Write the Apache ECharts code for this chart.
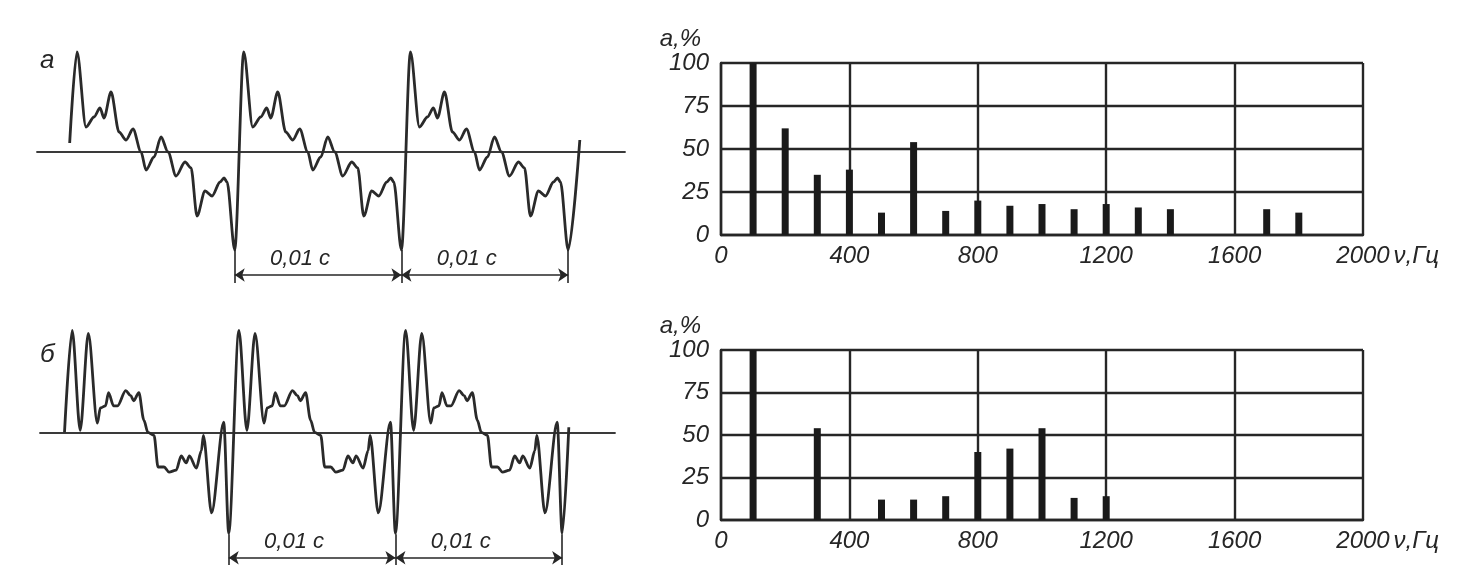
<!DOCTYPE html>
<html>
<head>
<meta charset="utf-8">
<script src="https://cdn.jsdelivr.net/npm/echarts@6/dist/echarts.min.js"></script>
<style>
  html, body { margin: 0; background: #fff; }
  #chart { width: 1466px; height: 574px; }
</style>
</head>
<body>
<div id="chart"></div>
<script>
// осциллограмма а: один период, t в мс от минимума, значение в долях амплитуды
const waveAPeriod = [
  [0.54, 1.0], [1.08, 0.25], [1.56, 0.35], [1.92, 0.44], [2.16, 0.34], [2.58, 0.6],
  [3.06, 0.2], [3.48, 0.12], [3.9, 0.23], [4.38, 0.0], [4.68, -0.18], [5.16, -0.05],
  [5.58, 0.15], [6.0, 0.0], [6.48, -0.24], [7.02, -0.1], [7.38, -0.16], [7.74, -0.64],
  [8.22, -0.39], [8.64, -0.44], [9.12, -0.3], [9.36, -0.26], [9.54, -0.3], [10.0, -0.98]
];
const waveAStart = [0.1, 0.09];
const waveAEnd = [30.7, 0.12];

// осциллограмма б
const waveBPeriod = [
  [0.61, 1.0], [1.09, 0.02], [1.58, 0.97], [2.12, 0.09], [2.3, 0.24], [2.61, 0.26],
  [2.79, 0.39], [3.09, 0.26], [3.33, 0.26], [3.82, 0.41], [4.12, 0.36], [4.3, 0.31],
  [4.61, 0.39], [4.91, 0.12], [5.15, 0.0], [5.52, -0.03], [5.76, -0.34], [6.12, -0.34],
  [6.42, -0.39], [6.85, -0.37], [7.15, -0.23], [7.45, -0.3], [7.64, -0.23], [8.06, -0.35],
  [8.36, -0.18], [8.48, -0.03], [8.97, -0.79], [9.7, 0.1], [10.0, -0.99]
];
const waveBStart = [0.15, 0.0];
const waveBEnd = [30.4, 0.05];

const periodMs = 10;
const periodMarks = [10, 20, 30];
const periodLabel = '0,01 с';

// спектры: частота, Гц и амплитуда, %
const spectrumAFreq = [100, 200, 300, 400, 500, 600, 700, 800, 900, 1000, 1100, 1200, 1300, 1400, 1700, 1800];
const spectrumAValue = [100, 62, 35, 38, 13, 54, 14, 20, 17, 18, 15, 18, 16, 15, 15, 13];
const spectrumBFreq = [100, 300, 500, 600, 700, 800, 900, 1000, 1100, 1200];
const spectrumBValue = [100, 54, 12, 12, 14, 40, 42, 54, 13, 14];

const ink = '#262626';
const font = 'Liberation Sans';

function buildWave(start, period, end) {
  const pts = [start];
  for (let p = 0; p < 3; p++) {
    period.forEach(([t, v]) => pts.push([t + p * periodMs, v]));
  }
  pts.push(end);
  return pts;
}

function dimLines(yTop, yBottom, yArrow) {
  const data = periodMarks.map(t => [
    { coord: [t, yTop], symbol: 'none', name: '' },
    { coord: [t, yBottom], symbol: 'none', name: '' }
  ]);
  for (let i = 0; i < periodMarks.length - 1; i++) {
    data.push([
      { coord: [periodMarks[i], yArrow], symbol: 'arrow', name: periodLabel },
      { coord: [periodMarks[i + 1], yArrow], symbol: 'arrow', name: periodLabel }
    ]);
  }
  return {
    silent: true,
    symbolSize: 10,
    lineStyle: { color: ink, width: 1.6, type: 'solid' },
    label: {
      show: true,
      position: 'middle',
      formatter: p => p.name || '',
      color: ink,
      fontFamily: font,
      fontStyle: 'italic',
      fontSize: 22,
      padding: [0, 36, 0, 0]
    },
    data
  };
}

function waveSeries(idx, data, yTop, yBottom, yArrow) {
  return {
    type: 'line',
    xAxisIndex: idx,
    yAxisIndex: idx,
    data,
    showSymbol: false,
    smooth: 0.3,
    smoothMonotone: 'x',
    lineStyle: { color: '#2a2a2a', width: 2.8 },
    markLine: dimLines(yTop, yBottom, yArrow)
  };
}

function spectrumSeries(idx, freq, value) {
  return {
    type: 'bar',
    xAxisIndex: idx,
    yAxisIndex: idx,
    barWidth: 7,
    itemStyle: { color: '#1a1a1a' },
    data: freq.map((f, i) => [f, value[i]])
  };
}

const waveX = (min, max) => ({
  type: 'value',
  min,
  max,
  axisLine: { onZero: true, lineStyle: { color: '#3a3a3a', width: 1.8 } },
  axisTick: { show: false },
  axisLabel: { show: false },
  splitLine: { show: false }
});
const waveY = (min, max) => ({
  type: 'value',
  min,
  max,
  axisLine: { show: false },
  axisTick: { show: false },
  axisLabel: { show: false },
  splitLine: { show: false }
});

const labelStyle = { color: ink, fontFamily: font, fontStyle: 'italic', fontSize: 24 };
const gridLine = { lineStyle: { color: ink, width: 2.4 } };

const freqAxis = {
  type: 'value',
  min: 0,
  max: 2000,
  interval: 400,
  name: 'ν,Гц',
  nameLocation: 'end',
  nameGap: 30,
  nameTextStyle: { ...labelStyle, verticalAlign: 'top', padding: [9, 0, 0, 0] },
  axisLine: gridLine,
  axisTick: { show: false },
  axisLabel: { ...labelStyle, margin: 9, formatter: v => String(v) },
  splitLine: { show: true, ...gridLine }
};
const ampAxis = {
  type: 'value',
  min: 0,
  max: 100,
  interval: 25,
  name: 'а,%',
  nameLocation: 'end',
  nameGap: 12,
  nameTextStyle: { ...labelStyle, align: 'right', padding: [0, 20, 0, 0] },
  axisLine: gridLine,
  axisTick: { show: false },
  axisLabel: { ...labelStyle, margin: 12 },
  splitLine: { show: true, ...gridLine }
};

const option = {
  animation: false,
  backgroundColor: '#fff',
  title: [
    { text: 'а', left: 40, top: 48, padding: 0, textStyle: { ...labelStyle, fontSize: 26, fontWeight: 'normal' } },
    { text: 'б', left: 40, top: 342, padding: 0, textStyle: { ...labelStyle, fontSize: 26, fontWeight: 'normal' } }
  ],
  grid: [
    { left: 37, top: 32, width: 588, height: 260 },
    { left: 40, top: 310, width: 575, height: 260 },
    { left: 721, top: 63, width: 642, height: 172 },
    { left: 721, top: 350, width: 642, height: 170 }
  ],
  xAxis: [
    { ...waveX(-1.86, 33.41), gridIndex: 0 },
    { ...waveX(-1.32, 33.17), gridIndex: 1 },
    { ...freqAxis, gridIndex: 2 },
    { ...freqAxis, gridIndex: 3 }
  ],
  yAxis: [
    { ...waveY(-1.4, 1.2), gridIndex: 0 },
    { ...waveY(-1.35, 1.2), gridIndex: 1 },
    { ...ampAxis, gridIndex: 2 },
    { ...ampAxis, gridIndex: 3 }
  ],
  series: [
    waveSeries(0, buildWave(waveAStart, waveAPeriod, waveAEnd), -0.98, -1.31, -1.23),
    waveSeries(1, buildWave(waveBStart, waveBPeriod, waveBEnd), -1.0, -1.3, -1.23),
    spectrumSeries(2, spectrumAFreq, spectrumAValue),
    spectrumSeries(3, spectrumBFreq, spectrumBValue)
  ]
};

echarts.init(document.getElementById('chart')).setOption(option);
</script>
</body>
</html>
